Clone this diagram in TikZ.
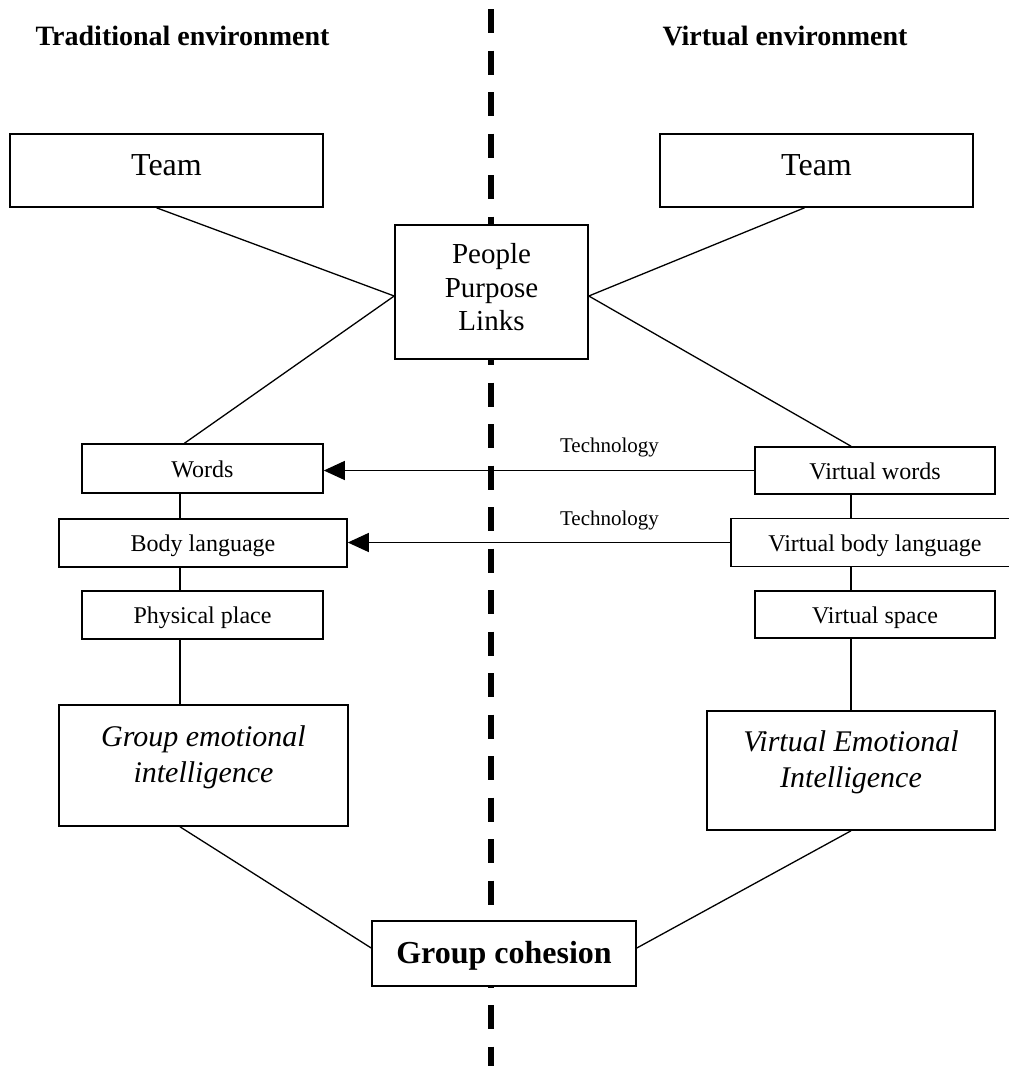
\documentclass[tikz,border=0pt]{standalone}
\usepackage{fontspec}
\setmainfont{Liberation Serif}
\usepackage{tikz}
\usetikzlibrary{arrows.meta}

\begin{document}
\begin{tikzpicture}[x=0.5pt,y=-0.5pt,
    box/.style={draw,fill=white,line width=0.8pt,inner sep=0pt},
    smallbox/.style={box,font=\fontsize{12}{14}\selectfont,text height=8.7pt,text depth=0pt},
    teambox/.style={box,minimum width=156.5pt,minimum height=36.5pt,font=\fontsize{16}{19}\selectfont,text height=4.5pt,text depth=0pt},
    eibox/.style={box,minimum width=144.5pt,align=center,font=\fontsize{15}{18}\selectfont\itshape,text depth=11pt},
    header/.style={anchor=base,font=\fontsize{14}{17}\selectfont\bfseries},
    techlbl/.style={anchor=base,font=\fontsize{10.5}{12}\selectfont},
    link/.style={line width=0.65pt},
    techarrow/.style={link,-{Triangle[length=10.5pt,width=9.5pt]}},
    divider/.style={line width=2.7pt,dash pattern=on 12pt off 8.75pt}]
        \useasboundingbox (0,0) rectangle (1008,1066);

        % dividing line
        \coordinate (divtop) at (491,9);
        \coordinate (divbot) at (491,1066);
        \draw[divider] (divtop) -- (divbot);

        \node[header] (tradhead) at (182.5,45.7) {Traditional environment};
        \node[header] (virthead) at (785,45.7) {Virtual environment};

        \node[teambox] (teamL) at (166.5,170.5) {Team};
        \node[teambox] (teamR) at (816.5,170.5) {Team};
        \node[box,minimum width=96.5pt,minimum height=67pt,align=center,font=\fontsize{14.5}{16.7}\selectfont,text depth=5pt] (ppl) at (491.5,292) {People\\Purpose\\Links};

        % traditional side
        \node[smallbox,minimum width=120.5pt,minimum height=24.5pt] (words) at (202.5,468.5) {Words};
        \node[smallbox,minimum width=144pt,minimum height=24pt] (body) at (203,543) {Body language};
        \node[smallbox,minimum width=120.5pt,minimum height=24pt] (place) at (202.5,615) {Physical place};
        \node[eibox,minimum height=60.5pt] (gei) at (203.5,765.5) {Group emotional\\intelligence};

        % virtual side
        \node[smallbox,minimum width=120pt,minimum height=23.5pt] (vwords) at (875,470.5) {Virtual words};
        \node[smallbox,minimum width=144pt,minimum height=24pt] (vbody) at (875,542.5) {Virtual body language};
        \node[smallbox,minimum width=120pt,minimum height=23.5pt] (vspace) at (875,614.5) {Virtual space};
        \node[eibox,minimum width=144pt,minimum height=59.5pt] (vei) at (851,770.5) {Virtual Emotional\\Intelligence};

        \node[box,minimum width=132pt,minimum height=32.5pt,font=\fontsize{16}{19}\selectfont\bfseries,text height=9.8pt,text depth=0pt] (gc) at (504,953.5) {Group cohesion};

        \draw[link] ([xshift=-5pt]teamL.south) -- ([yshift=-2pt]ppl.west);
        \draw[link] ([xshift=-6pt]teamR.south) -- ([yshift=-2pt]ppl.east);
        \draw[link] ([yshift=-2pt]ppl.west) -- ([xshift=-9pt]words.north);
        \draw[link] ([yshift=-2pt]ppl.east) -- ([xshift=-12pt]vwords.north);

        \foreach \a/\b in {words/body,body/place,place/gei} {
                \draw[link] ([xshift=-11.25pt]words.south |- \a.south) -- ([xshift=-11.25pt]words.south |- \b.north);
            }
        \foreach \a/\b in {vwords/vbody,vbody/vspace,vspace/vei} {
                \draw[link] (vei.north |- \a.south) -- (vei.north |- \b.north);
            }

        \draw[link] ([xshift=-11.25pt]words.south |- gei.south) -- ([yshift=2.75pt]gc.west);
        \draw[link] (vei.south) -- ([yshift=2.75pt]gc.east);

        \draw[techarrow] (vwords.west) -- (vwords.west -| words.east);
        \draw[techarrow] (vbody.west) -- (vbody.west -| body.east);
        \node[techlbl] (tech1) at (609.5,452) {Technology};
        \node[techlbl] (tech2) at (609.5,525) {Technology};

    \end{tikzpicture}
\end{document}
